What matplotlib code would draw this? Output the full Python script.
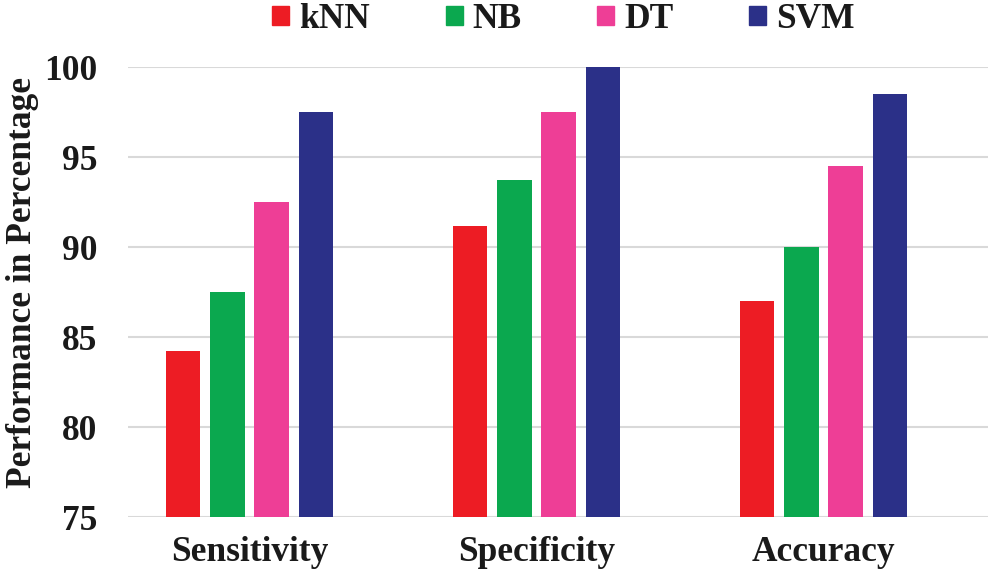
import numpy as np
import matplotlib.pyplot as plt
from matplotlib.patches import Patch

categories = ['Sensitivity', 'Specificity', 'Accuracy']
models = ['kNN', 'NB', 'DT', 'SVM']
knn = [84.2, 91.2, 87.0]
nb = [87.5, 93.75, 90.0]
dt = [92.5, 97.5, 94.5]
svm = [97.5, 100.0, 98.5]
colors = ['#ED1C24', '#0BA84F', '#EE3E96', '#2B3088']

plt.rcParams['font.family'] = ['Liberation Serif', 'DejaVu Serif']
plt.rcParams['font.weight'] = 'bold'
txt = '#1a1a1a'
fs = 25.5

fig = plt.figure(figsize=(9.9, 5.74), dpi=100)
ax = fig.add_axes([0.1293, 0.0993, 0.8687, 0.7837])

x = np.arange(len(categories))
w = 0.12
step = 0.154
for i, vals in enumerate([knn, nb, dt, svm]):
    ax.bar(x + (i - 1.5) * step, np.array(vals) - 75, w, bottom=75,
           color=colors[i], zorder=3)

ax.set_ylim(75, 100)
ax.set_xlim(-0.423, 2.573)
ax.set_yticks([75, 80, 85, 90, 95, 100])
ax.set_xticks(x)
ax.set_xticklabels(categories)
ax.tick_params(axis='both', length=0, labelsize=fs, colors=txt)
ax.tick_params(axis='y', pad=22)
ax.tick_params(axis='x', pad=14)
ax.grid(axis='y', color='#D9D9D9', linewidth=1.5, zorder=0)
for s in ax.spines.values():
    s.set_visible(False)

fig.text(0.023, 0.508, 'Performance in Percentage', rotation=90, fontsize=fs,
         ha='center', va='center', color=txt, fontweight='bold')

handles = [Patch(color=c, label=m) for c, m in zip(colors, models)]
fig.legend(handles=handles, loc='center', bbox_to_anchor=(0.569, 0.966),
           ncol=4, frameon=False, fontsize=fs, handlelength=0.48,
           handleheight=0.43, handletextpad=0.27, columnspacing=2.15,
           borderpad=0, labelcolor=txt)

fig.savefig('out.png', dpi=100)
